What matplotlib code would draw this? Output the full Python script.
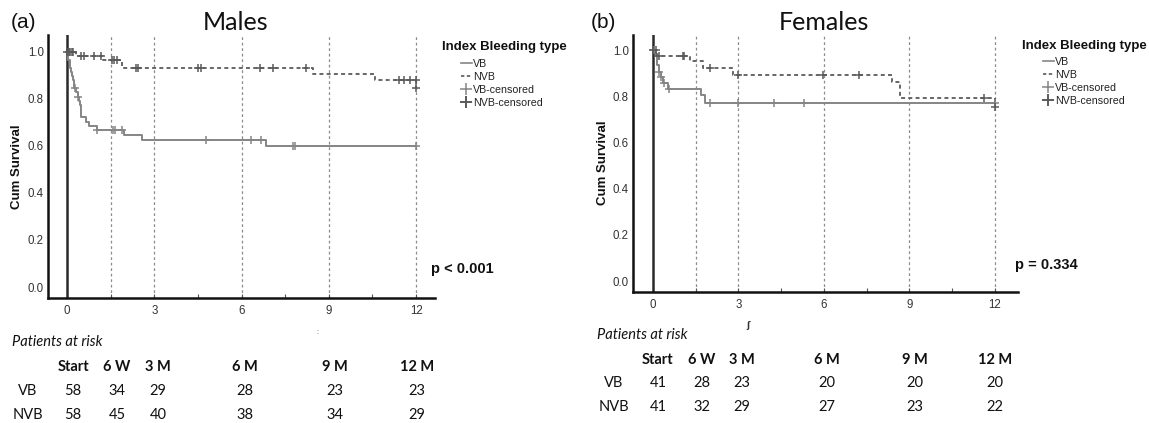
import numpy as np
import matplotlib
matplotlib.use("Agg")
import matplotlib.pyplot as plt
from matplotlib.lines import Line2D

# ---------------- data ----------------
x_ticks = [0, 3, 6, 9, 12]
y_ticks = [0.0, 0.2, 0.4, 0.6, 0.8, 1.0]
ref_lines = [1.5, 3, 6, 9, 12]

# Males
m_vb_t = [0, 0.04, 0.10, 0.14, 0.18, 0.20, 0.23, 0.25, 0.30, 0.37, 0.40, 0.43, 0.47, 0.49,
          0.63, 0.75, 1.01, 1.96, 2.58, 6.84, 12.0]
m_vb_s = [1.0, 0.966, 0.931, 0.914, 0.897, 0.879, 0.862, 0.845, 0.828, 0.810, 0.793, 0.776,
          0.759, 0.722, 0.703, 0.685, 0.668, 0.647, 0.626, 0.600, 0.600]
m_vb_cens = [0.27, 0.37, 1.04, 1.58, 1.65, 1.88, 4.77, 6.33, 6.68, 7.78, 7.85, 12.0]

m_nvb_t = [0, 0.32, 1.22, 1.90, 8.46, 10.6, 12.0]
m_nvb_s = [1.0, 0.983, 0.965, 0.932, 0.908, 0.882, 0.848]
m_nvb_cens = [0.0, 0.05, 0.10, 0.15, 0.20, 0.48, 0.57, 0.91, 1.15, 1.55, 1.62, 1.72,
              2.35, 2.45, 4.50, 4.60, 6.62, 7.09, 8.20, 11.4, 11.6, 11.8, 11.99, 12.0]

# Females
f_vb_t = [0, 0.10, 0.15, 0.21, 0.27, 0.35, 0.54, 1.68, 1.83, 12.0]
f_vb_s = [1.0, 0.976, 0.935, 0.906, 0.884, 0.856, 0.830, 0.805, 0.772, 0.772]
f_vb_cens = [0.05, 0.22, 0.28, 0.38, 0.57, 2.0, 3.0, 4.25, 5.3, 12.0]

f_nvb_t = [0, 0.13, 1.30, 1.75, 2.81, 8.39, 8.68, 12.0]
f_nvb_s = [1.0, 0.976, 0.951, 0.922, 0.892, 0.863, 0.791, 0.755]
f_nvb_cens = [0.0, 0.10, 0.20, 1.05, 1.10, 2.0, 3.0, 5.95, 7.22, 11.6, 12.0]

# Patients at risk
risk_cols = ["Start", "6 W", "3 M", "6 M", "9 M", "12 M"]
risk_rows = ["VB", "NVB"]
m_risk_vb = [58, 34, 29, 28, 23, 23]
m_risk_nvb = [58, 45, 40, 38, 34, 29]
f_risk_vb = [41, 28, 23, 20, 20, 20]
f_risk_nvb = [41, 32, 29, 27, 23, 22]

legend_labels = ["VB", "NVB", "VB-censored", "NVB-censored"]

# ---------------- style ----------------
W, H = 1149, 423
VB_COL = "#858585"
NVB_COL = "#5a5a5a"
REF_COL = "#8c8c8c"
TXT = "Liberation Sans"
TAB = "Lato"

fig = plt.figure(figsize=(W / 100, H / 100), dpi=100)
fig.patch.set_facecolor("white")


def fx(px):
    return px / W


def fy(py):
    return 1 - py / H


def km_at(t, s, x):
    idx = np.searchsorted(np.asarray(t), x, side="right") - 1
    return np.asarray(s)[idx]


def panel(rect, xlim, ylim, vb_t, vb_s, vb_c, nvb_t, nvb_s, nvb_c):
    ax = fig.add_axes(rect)
    ax.set_xlim(*xlim)
    ax.set_ylim(*ylim)
    for xr in ref_lines:
        ax.axvline(xr, color=REF_COL, lw=0.9, ls=(0, (2.2, 2.2)), zorder=1)
    ax.axvline(0, color="#2a2a2a", lw=1.8, zorder=2)
    ax.step(vb_t, vb_s, where="post", color=VB_COL, lw=1.4, zorder=3)
    ax.step(nvb_t, nvb_s, where="post", color=NVB_COL, lw=1.3,
            ls=(0, (2.2, 1.8)), zorder=3)
    ax.plot(vb_c, km_at(vb_t, vb_s, vb_c), ls="none", marker="+", ms=6,
            mew=1.1, color=VB_COL, zorder=4)
    ax.plot(nvb_c, km_at(nvb_t, nvb_s, nvb_c), ls="none", marker="+", ms=6,
            mew=1.1, color=NVB_COL, zorder=4)
    for side in ["top", "right"]:
        ax.spines[side].set_visible(False)
    for side in ["left", "bottom"]:
        ax.spines[side].set_linewidth(1.8)
        ax.spines[side].set_color("#111111")
    ax.set_xticks(x_ticks)
    ax.set_xticks([1.5, 4.5, 7.5, 10.5], minor=True)
    ax.set_yticks(y_ticks)
    ax.set_yticklabels([f"{v:.1f}" for v in y_ticks], fontsize=8.3,
                       family=TXT, color="#333333")
    ax.set_xticklabels([str(v) for v in x_ticks], fontsize=8.3,
                       family=TXT, color="#333333")
    ax.tick_params(axis="y", length=0, pad=3)
    ax.tick_params(axis="x", which="both", direction="in", length=3,
                   width=0.8, color="#555555", pad=5)
    ax.set_facecolor("none")
    return ax


axL = panel([fx(48), fy(298), fx(435) - fx(48), fy(35) - fy(298)],
            (-0.66, 12.65), (-0.0468, 1.0723),
            m_vb_t, m_vb_s, m_vb_cens, m_nvb_t, m_nvb_s, m_nvb_cens)
axR = panel([fx(633), fy(292), fx(1018) - fx(633), fy(35) - fy(292)],
            (-0.70, 12.81), (-0.0476, 1.065),
            f_vb_t, f_vb_s, f_vb_cens, f_nvb_t, f_nvb_s, f_nvb_cens)

# titles and labels
for cx, lab, name, ncx in [(24, "(a)", "Males", 236), (603, "(b)", "Females", 824)]:
    fig.text(fx(cx), fy(22), lab, ha="center", va="center", fontsize=15,
             family=TXT, color="#111111")
    fig.text(fx(ncx), fy(22), name, ha="center", va="center", fontsize=18,
             family=TAB, color="#111111")

fig.text(fx(17), fy(167), "Cum Survival", rotation=90, ha="center", va="center",
         fontsize=9.5, fontweight="bold", family=TXT, color="#111111")
fig.text(fx(603), fy(163), "Cum Survival", rotation=90, ha="center", va="center",
         fontsize=9.5, fontweight="bold", family=TXT, color="#111111")

fig.text(fx(431), fy(269), "p < 0.001", ha="left", va="center", fontsize=10.5,
         fontweight="bold", family=TXT, color="#111111")
fig.text(fx(1015), fy(265), "p = 0.334", ha="left", va="center", fontsize=10.5,
         fontweight="bold", family=TXT, color="#111111")

# cropped axis-title fragments
fig.text(fx(317), fy(332), ":", ha="center", va="center", fontsize=5,
         color="#444444", family=TXT)
fig.text(fx(748), fy(325), "ʃ", ha="center", va="center", fontsize=6,
         fontweight="bold", color="#333333", family="DejaVu Sans")

# legends
handles = [
    Line2D([], [], color=VB_COL, lw=1.2),
    Line2D([], [], color=NVB_COL, lw=1.2, ls=(0, (2, 1.5))),
    Line2D([], [], color=VB_COL, ls="none", marker="+", ms=9, mew=1.1),
    Line2D([], [], color=NVB_COL, ls="none", marker="+", ms=9, mew=1.4),
]
for tx, ty, hx, hy in [(442, 47, 461, 59), (1022, 46, 1043, 57)]:
    fig.text(fx(tx), fy(ty), "Index Bleeding type", ha="left", va="center",
             fontsize=9.5, fontweight="bold", family=TXT, color="#111111")
    fig.legend(handles, legend_labels, loc="upper left",
               bbox_to_anchor=(fx(hx), fy(hy)), bbox_transform=fig.transFigure,
               frameon=False, prop={"family": TXT, "size": 7.7},
               handlelength=1.0, handletextpad=0.15, labelspacing=0.28,
               borderpad=0, borderaxespad=0, labelcolor="#222222")

# patients at risk tables
def risk_table(px_title, py_title, col_x, row_x, ys, vb, nvb):
    fig.text(fx(px_title), fy(py_title), "Patients at risk", ha="left",
             va="center", fontsize=10.5, style="italic", family=TAB,
             color="#111111")
    for cx, c in zip(col_x, risk_cols):
        fig.text(fx(cx), fy(ys[0]), c, ha="center", va="center",
                 fontsize=10.5, fontweight="bold", family=TAB, color="#111111")
    for ry, rl, vals in [(ys[1], risk_rows[0], vb), (ys[2], risk_rows[1], nvb)]:
        fig.text(fx(row_x), fy(ry), rl, ha="center", va="center",
                 fontsize=10.5, family=TAB, color="#111111")
        for cx, v in zip(col_x, vals):
            fig.text(fx(cx), fy(ry), str(v), ha="center", va="center",
                     fontsize=10.5, family=TAB, color="#111111")


risk_table(12, 342, [73, 117, 158, 245, 335, 417], 28, [367, 391, 415],
           m_risk_vb, m_risk_nvb)
risk_table(597, 335, [658, 702, 742, 827, 915, 995], 614, [360, 383, 407],
           f_risk_vb, f_risk_nvb)

fig.savefig("out.png", dpi=100, facecolor="white")
